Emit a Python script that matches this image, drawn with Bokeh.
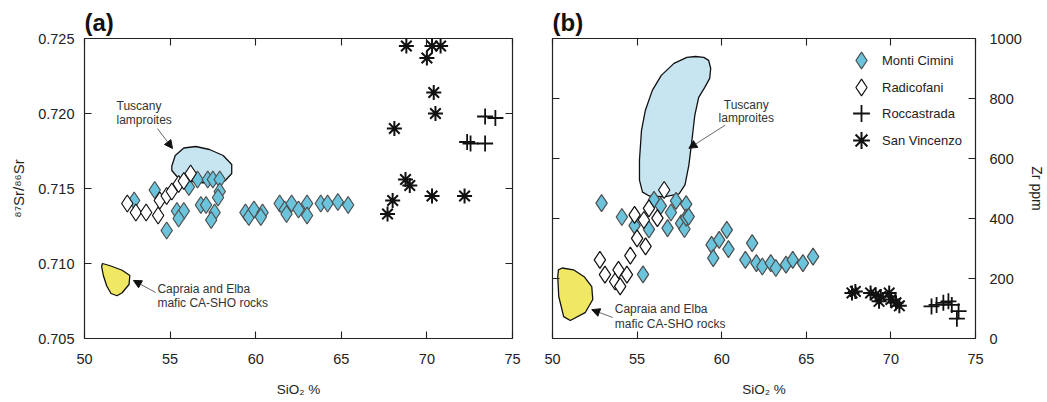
from bokeh.plotting import figure
from bokeh.layouts import row
from bokeh.models import (Range1d, FixedTicker, LinearAxis, Label, Arrow, NormalHead,
                          Legend, LegendItem, NumeralTickFormatter, CustomJSTickFormatter)
from bokeh.embed import file_html
from bokeh.resources import INLINE

FONT = "Liberation Sans"
DARK = "#222222"
BLUE = "#6cc4dc"
LAMP = "#c7e4f1"
YELLOW = "#f0e862"

# ---------------- Panel (a): 87Sr/86Sr vs SiO2 ----------------
a_mc_sio2 = [52.9, 54.1, 54.8, 55.4, 55.8, 55.5, 56.1, 56.6, 57.2, 57.5, 57.9, 57.9, 57.8,
             56.8, 57.1, 57.6, 57.4, 59.4, 59.6, 59.9, 60.4, 60.3, 61.4, 61.7, 61.8, 62.1,
             62.5, 63.0, 63.0, 63.8, 64.2, 64.8, 65.4]
a_mc_sr = [0.7142, 0.7149, 0.7122, 0.7135, 0.7135, 0.7130, 0.7151, 0.7156, 0.7156, 0.7156,
           0.7156, 0.7148, 0.7144, 0.7139, 0.7139, 0.7134, 0.7129, 0.7134, 0.7131, 0.7136,
           0.7134, 0.7131, 0.7140, 0.7136, 0.7133, 0.7140, 0.7136, 0.7140, 0.7132, 0.7140,
           0.7140, 0.7141, 0.7139]

a_rad_sio2 = [52.5, 53.0, 53.6, 54.3, 54.4, 54.8, 55.1, 55.5, 55.8, 56.2]
a_rad_sr = [0.7140, 0.7134, 0.7134, 0.7132, 0.7142, 0.7145, 0.7148, 0.7153, 0.7155, 0.7160]

a_sv_sio2 = [68.8, 70.3, 70.8, 70.0, 70.4, 70.5, 68.1, 68.75, 69.0, 70.3, 72.2, 68.0, 67.7]
a_sv_sr = [0.7245, 0.7245, 0.7245, 0.7237, 0.7214, 0.7200, 0.7190, 0.7156, 0.7152,
           0.7145, 0.7145, 0.7142, 0.7133]

a_roc_sio2 = [73.4, 74.0, 72.35, 72.55, 73.4]
a_roc_sr = [0.7198, 0.7197, 0.7181, 0.7180, 0.7180]

# field outlines (a)
a_lamp_x = [55.1, 55.3, 55.8, 56.5, 57.3, 58.1, 58.6, 58.6, 58.2, 57.6, 56.8, 56.0, 55.4, 55.1]
a_lamp_y = [0.7165, 0.7172, 0.7177, 0.7178, 0.7176, 0.7172, 0.7166, 0.7160, 0.7155,
            0.7153, 0.7154, 0.7155, 0.7158, 0.7162]
a_cap_x = [51.05, 51.5, 52.2, 52.65, 52.6, 52.2, 51.9, 51.55, 51.3, 51.1, 51.0]
a_cap_y = [0.7100, 0.70985, 0.70955, 0.7092, 0.7086, 0.70805, 0.70785, 0.7080, 0.7085,
           0.7092, 0.7098]

a_x_ticks = [50, 55, 60, 65, 70, 75]
a_y_ticks = [0.705, 0.710, 0.715, 0.720, 0.725]

# ---------------- Panel (b): Zr vs SiO2 ----------------
b_mc_sio2 = [52.9, 54.1, 55.35, 54.85, 55.7, 56.0, 56.4, 56.8, 57.0, 57.3, 57.6, 57.8, 57.9,
             57.9, 58.05, 59.4, 59.5, 59.85, 60.3, 60.4, 61.8, 61.4, 62.05, 62.4, 62.9, 63.2,
             63.8, 64.2, 64.8, 65.4]
b_mc_zr = [451, 405, 214, 376, 364, 462, 442, 368, 420, 459, 384, 365, 448, 403, 406, 312,
           268, 329, 362, 298, 318, 262, 251, 240, 251, 235, 246, 262, 251, 273]

b_rad_sio2 = [52.8, 53.1, 53.7, 54.0, 53.9, 54.4, 54.6, 55.0, 55.5, 54.85, 55.4, 55.7, 56.2, 56.6]
b_rad_zr = [262, 213, 190, 174, 229, 213, 276, 334, 307, 412, 395, 434, 401, 495]

b_sv_sio2 = [67.7, 67.9, 68.8, 69.1, 69.3, 69.4, 69.9, 70.0, 70.3, 70.5]
b_sv_zr = [152, 157, 152, 146, 124, 140, 152, 130, 119, 109]

b_roc_sio2 = [72.4, 72.7, 73.1, 73.4, 73.6, 74.0, 73.9]
b_roc_zr = [107, 112, 119, 124, 112, 91, 66]

b_lamp_x = [58.45, 58.94, 59.23, 59.35, 59.29, 59.0, 58.64, 58.41, 58.24, 58.06, 57.83,
            57.48, 56.6, 55.72, 55.32, 55.14, 55.14, 55.26, 55.49, 55.9, 56.43, 57.18, 57.94]
b_lamp_y = [940, 937, 927, 900, 867, 837, 804, 744, 661, 578, 512, 482, 472, 475, 488,
            528, 595, 694, 761, 827, 877, 917, 937]
b_cap_x = [50.57, 51.24, 51.87, 52.32, 52.38, 51.93, 51.05, 50.66, 50.37, 50.31, 50.35]
b_cap_y = [235, 229, 206, 173, 130, 86, 60, 73, 140, 206, 229]

b_x_ticks = [50, 55, 60, 65, 70, 75]
b_y_ticks = [0, 200, 400, 600, 800, 1000]

series_names = ["Monti Cimini", "Radicofani", "Roccastrada", "San Vincenzo"]


def style_axis(ax, ticks, labels=True, size="14.5px"):
    ax.ticker = FixedTicker(ticks=ticks)
    ax.major_tick_in = 7
    ax.major_tick_out = 0
    ax.minor_tick_line_color = None
    ax.axis_line_color = None
    ax.major_tick_line_color = DARK
    ax.major_tick_line_width = 1.1
    ax.major_label_text_font = FONT
    ax.major_label_text_font_size = size
    ax.major_label_text_color = DARK
    ax.axis_label_text_font = FONT
    ax.axis_label_text_font_style = "normal"
    ax.axis_label_text_color = DARK
    if not labels:
        ax.formatter = CustomJSTickFormatter(code="return ''")
        ax.major_label_standoff = 0


def base_fig(width, xr, yr, left, right, yloc, title):
    p = figure(width=width, height=402, x_range=Range1d(*xr), y_range=Range1d(*yr),
               output_backend="svg", toolbar_location=None, y_axis_location=yloc,
               min_border_left=left, min_border_right=right, min_border_top=38,
               min_border_bottom=64, title=title)
    p.title.text_font = FONT
    p.title.text_font_size = "24px"
    p.title.text_font_style = "bold"
    p.title.text_color = "#111111"
    p.title.align = "left"
    p.title.standoff = 5
    p.title.offset = 0
    p.grid.visible = False
    p.outline_line_color = DARK
    p.outline_line_width = 1.2
    p.background_fill_color = "white"
    p.border_fill_color = "white"
    return p


def draw_series(p, mc, rad, sv, roc):
    r_mc = p.scatter(mc[0], mc[1], marker="diamond", size=17, fill_color=BLUE,
                     line_color="#4d4d4d", line_width=1.2)
    r_rad = p.scatter(rad[0], rad[1], marker="diamond", size=17, fill_color="white",
                      line_color="#111111", line_width=1.2)
    r_sv = p.scatter(sv[0], sv[1], marker="asterisk", size=15, line_color="#111111",
                     line_width=2)
    r_roc = p.scatter(roc[0], roc[1], marker="cross", size=16, line_color="#111111",
                      line_width=1.8)
    return r_mc, r_rad, r_roc, r_sv


def note(p, x, y, text, align="left"):
    p.add_layout(Label(x=x, y=y, text=text, text_font=FONT, text_font_size="12px",
                       text_color="#333333", text_baseline="middle", text_align=align))


def arrow(p, x0, y0, x1, y1):
    p.add_layout(Arrow(end=NormalHead(size=8, fill_color="#111111", line_color="#111111"),
                       x_start=x0, y_start=y0, x_end=x1, y_end=y1,
                       line_color="#444444", line_width=0.8))


# ---------- (a) ----------
pa = base_fig(530, (50, 75), (0.705, 0.725), 84, 18, "left", "(a)")
style_axis(pa.xaxis[0], a_x_ticks)
pa.xaxis[0].axis_label = "SiO₂ %"
pa.xaxis[0].axis_label_text_font_size = "13.5px"
pa.xaxis[0].major_label_standoff = 15
pa.xaxis[0].axis_label_standoff = 15
style_axis(pa.yaxis[0], a_y_ticks)
pa.yaxis[0].formatter = NumeralTickFormatter(format="0.000")
pa.yaxis[0].axis_label = "⁸⁷Sr/⁸⁶Sr"
pa.yaxis[0].axis_label_text_font_size = "15px"
pa.yaxis[0].major_label_standoff = 10
pa.yaxis[0].axis_label_standoff = 8
ta = LinearAxis(); style_axis(ta, a_x_ticks, labels=False); pa.add_layout(ta, "above")
ra = LinearAxis(); style_axis(ra, a_y_ticks, labels=False); pa.add_layout(ra, "right")

pa.patch(a_lamp_x, a_lamp_y, fill_color=LAMP, line_color="#111111", line_width=1.3)
pa.patch(a_cap_x, a_cap_y, fill_color=YELLOW, line_color="#111111", line_width=1.3)
draw_series(pa, (a_mc_sio2, a_mc_sr), (a_rad_sio2, a_rad_sr), (a_sv_sio2, a_sv_sr),
            (a_roc_sio2, a_roc_sr))
note(pa, 51.87, 0.72047, "Tuscany")
note(pa, 51.87, 0.7196, "lamproites")
arrow(pa, 54.26, 0.7190, 55.14, 0.71767)
note(pa, 54.26, 0.70833, "Capraia and Elba")
note(pa, 54.26, 0.7074, "mafic CA-SHO rocks")
arrow(pa, 54.15, 0.70807, 52.86, 0.70887)

# ---------- (b) ----------
pb = base_fig(517, (50, 75), (0, 1000), 22, 67, "right", "(b)")
style_axis(pb.xaxis[0], b_x_ticks)
pb.xaxis[0].axis_label = "SiO₂ %"
pb.xaxis[0].axis_label_text_font_size = "13.5px"
pb.xaxis[0].major_label_standoff = 15
pb.xaxis[0].axis_label_standoff = 15
style_axis(pb.yaxis[0], b_y_ticks)
pb.yaxis[0].axis_label = "Zr ppm"
pb.yaxis[0].axis_label_text_font_size = "14px"
pb.yaxis[0].major_label_standoff = 14
pb.yaxis[0].axis_label_standoff = 4
tb = LinearAxis(); style_axis(tb, b_x_ticks, labels=False); pb.add_layout(tb, "above")
lb = LinearAxis(); style_axis(lb, b_y_ticks, labels=False); pb.add_layout(lb, "left")

pb.patch(b_lamp_x, b_lamp_y, fill_color=LAMP, line_color="#111111", line_width=1.3)
pb.patch(b_cap_x, b_cap_y, fill_color=YELLOW, line_color="#111111", line_width=1.3)
rends = draw_series(pb, (b_mc_sio2, b_mc_zr), (b_rad_sio2, b_rad_zr), (b_sv_sio2, b_sv_zr),
                    (b_roc_sio2, b_roc_zr))
note(pb, 61.45, 777, "Tuscany", align="center")
note(pb, 61.45, 734, "lamproites", align="center")
arrow(pb, 60.2, 711, 58.06, 634)
note(pb, 53.68, 100, "Capraia and Elba")
note(pb, 53.68, 50, "mafic CA-SHO rocks")
arrow(pb, 53.56, 70, 52.32, 96)

# one legend per entry so that the glyphs can be large while rows stay close
legend_offsets_y = [257, 230, 204, 177]
for n, r, oy in zip(series_names, rends, legend_offsets_y):
    lg = Legend(items=[LegendItem(label=n, renderers=[r])],
                location=(288, oy), glyph_width=42, glyph_height=42,
                label_standoff=-6, label_height=20, padding=1, margin=0,
                background_fill_alpha=0, border_line_color=None,
                label_text_font=FONT, label_text_font_size="13px", label_text_color=DARK)
    pb.add_layout(lg)

layout = row(pa, pb)
open("out.html", "w").write(file_html(layout, INLINE))
